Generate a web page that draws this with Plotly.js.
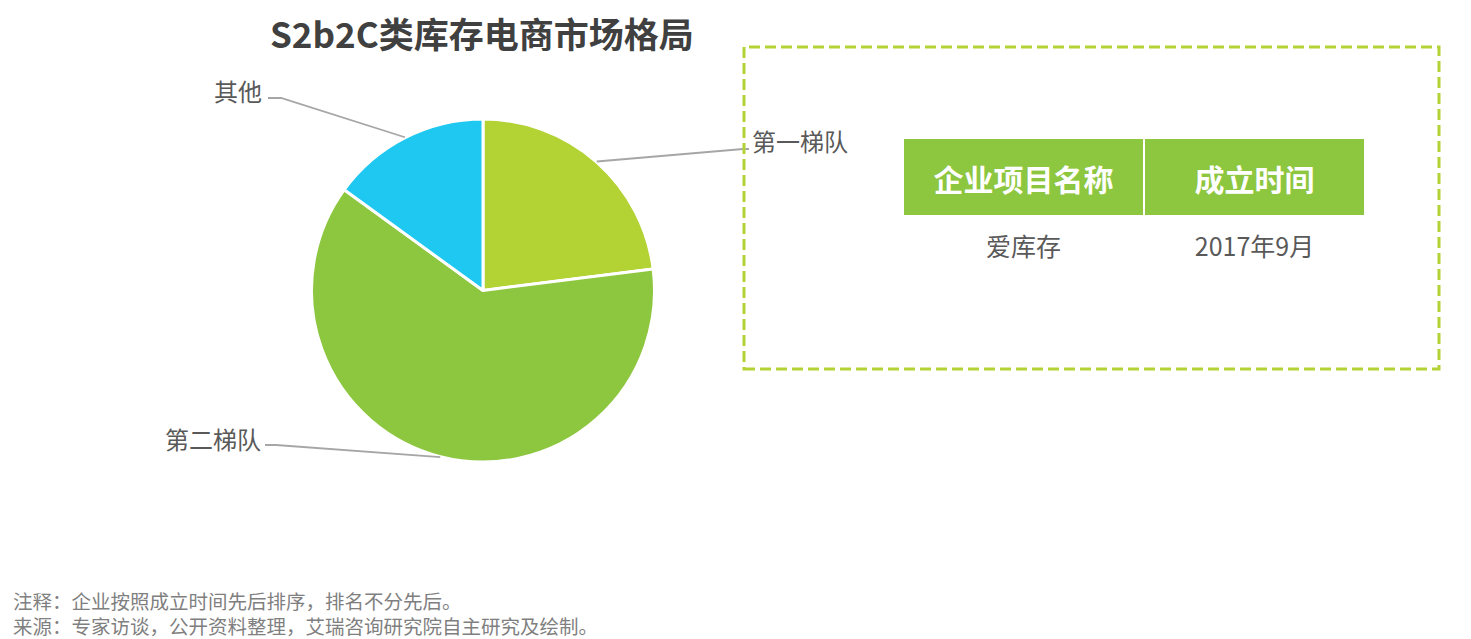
<!DOCTYPE html>
<html><head><meta charset="utf-8">
<script src="https://cdn.plot.ly/plotly-3.0.1.min.js"></script>
<style>html,body{margin:0;padding:0;background:#fff}#chart{width:1471px;height:639px}</style>
</head><body><div id="chart"></div>
<script>
// ---- data ----
const categories = ['第一梯队', '第二梯队', '其他'];
const shares = [23, 62, 15];
const sliceColors = ['#B3D234', '#8DC63F', '#1EC8F0'];
const tableHeader = ['企业项目名称', '成立时间'];
const companies = ['爱库存'];
const foundedDates = ['2017年9月'];
const titleText = 'S2b2C类库存电商市场格局';
const noteLines = ['注释：企业按照成立时间先后排序，排名不分先后。', '来源：专家访谈，公开资料整理，艾瑞咨询研究院自主研究及绘制。'];

// ---- layout helpers ----
const W = 1471, H = 639;
const px = x => x / W;
const py = y => 1 - y / H;
const FONT = '"Noto Sans CJK SC", "Microsoft YaHei", sans-serif';

// pie geometry (pixels)
const pieL = 311, pieR = 655, pieT = 119, pieB = 462;
const cx = (pieL + pieR) / 2, cy = (pieT + pieB) / 2, rad = (pieR - pieL) / 2;

// label anchors (pixel) for each category
const labelPos = {
  '第一梯队': {x: 750, y: 141, ly: 149, anchor: 'left', elbow: [743, 749]},
  '第二梯队': {x: 263, y: 438, ly: 445, anchor: 'right', elbow: [276, 265]},
  '其他': {x: 264, y: 90, ly: 98, anchor: 'right', elbow: [281, 268]}
};

const total = shares.reduce((a, b) => a + b, 0);
let cum = 0;
const shapes = [];
const annotations = [];
categories.forEach((c, i) => {
  const mid = (cum + shares[i] / 2) / total * 2 * Math.PI;
  cum += shares[i];
  const ex = cx + rad * Math.sin(mid), ey = cy - rad * Math.cos(mid);
  const lp = labelPos[c];
  shapes.push({type: 'path', xref: 'paper', yref: 'paper',
    path: `M ${px(ex)} ${py(ey)} L ${px(lp.elbow[0])} ${py(lp.ly)} L ${px(lp.elbow[1])} ${py(lp.ly)}`,
    line: {color: '#A6A6A6', width: 1.8}});
  annotations.push({text: c, xref: 'paper', yref: 'paper', x: px(lp.x), y: py(lp.y),
    xanchor: lp.anchor, yanchor: 'middle', showarrow: false,
    font: {family: FONT, size: 24, color: '#595959'}});
});

// dashed box
shapes.push({type: 'rect', xref: 'paper', yref: 'paper', x0: px(744), x1: px(1439), y0: py(369), y1: py(47),
  line: {color: '#B3D234', width: 3, dash: '11px,5px'}});

// title
annotations.push({text: '<b>' + titleText + '</b>', xref: 'paper', yref: 'paper', x: px(482), y: py(32),
  xanchor: 'center', yanchor: 'middle', showarrow: false, font: {family: FONT, size: 35, color: '#404040'}});

// notes (one block, two lines)
annotations.push({text: noteLines.join('<br>'), xref: 'paper', yref: 'paper', x: px(12), y: py(613),
  xanchor: 'left', yanchor: 'middle', align: 'left', showarrow: false, borderpad: 0,
  font: {family: FONT, size: 19.5, color: '#7F7F7F'}});

const pie = {
  type: 'pie', labels: categories, values: shares, sort: false, direction: 'clockwise', rotation: 0,
  marker: {colors: sliceColors, line: {color: '#FFFFFF', width: 3}},
  textinfo: 'none', hoverinfo: 'label+percent', showlegend: false,
  domain: {x: [px(pieL), px(pieR)], y: [py(pieB), py(pieT)]}
};

// table background (green header band and white divider), no text
const tableBg = {
  type: 'table',
  domain: {x: [px(903), px(1365)], y: [py(400), py(138)]},
  columnwidth: [241, 221],
  header: {values: tableHeader.map(() => ''), height: 78,
    fill: {color: '#8DC63F'}, line: {color: '#FFFFFF', width: 2}},
  cells: {values: [companies.map(() => ''), foundedDates.map(() => '')], height: 64,
    fill: {color: 'rgba(0,0,0,0)'}, line: {color: 'rgba(0,0,0,0)', width: 0}}
};
// table text layer, offset to centre the text vertically
const tableText = {
  type: 'table',
  domain: {x: [px(903), px(1365)], y: [py(400), py(148)]},
  columnwidth: [241, 221],
  header: {values: tableHeader.map(h => '<b>' + h + '</b>'), align: 'center', height: 81,
    fill: {color: 'rgba(0,0,0,0)'}, line: {color: 'rgba(0,0,0,0)', width: 0},
    font: {family: FONT, size: 30, color: '#FFFFFF'}},
  cells: {values: [companies, foundedDates], align: 'center', height: 64,
    fill: {color: 'rgba(0,0,0,0)'}, line: {color: 'rgba(0,0,0,0)', width: 0},
    font: {family: FONT, size: 25, color: '#595959'}}
};

Plotly.newPlot('chart', [pie, tableBg, tableText], {
  width: W, height: H, margin: {l: 0, r: 0, t: 0, b: 0},
  paper_bgcolor: '#FFFFFF', plot_bgcolor: '#FFFFFF',
  shapes: shapes, annotations: annotations, showlegend: false
}, {displayModeBar: false, staticPlot: true});
</script></body></html>
